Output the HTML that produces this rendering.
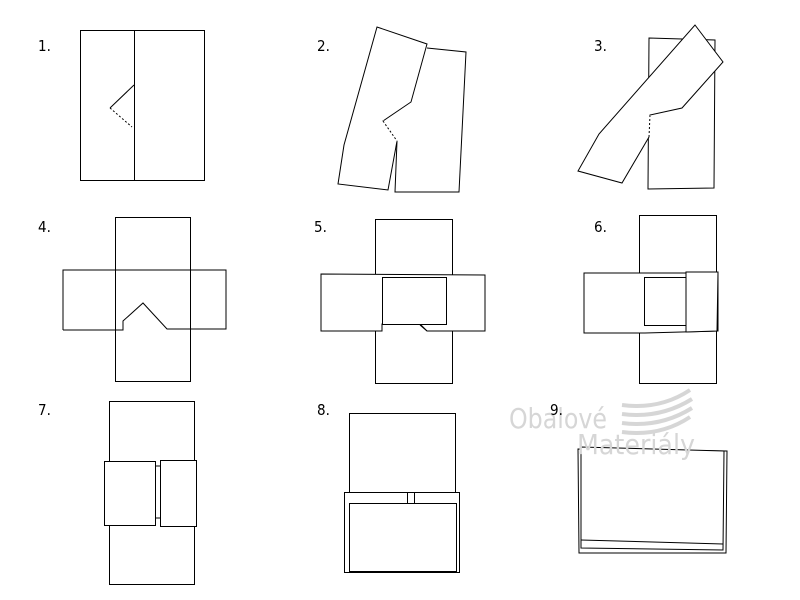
<!DOCTYPE html>
<html><head><meta charset="utf-8"><style>
html,body{margin:0;padding:0;background:#fff;width:800px;height:600px;overflow:hidden}
svg{display:block}
text{font-family:"DejaVu Sans Condensed","Liberation Sans",sans-serif}
</style></head><body>
<svg width="800" height="600" viewBox="0 0 800 600" xmlns="http://www.w3.org/2000/svg">
<g fill="none" stroke="#000" stroke-width="1">
<!-- 1 -->
<rect x="80.5" y="30.5" width="124" height="150"/>
<line x1="134.5" y1="30" x2="134.5" y2="180"/>
<polyline points="134,85 110,108"/>
<polyline points="110,108 132,127" stroke-dasharray="2,2"/>
<!-- 2 -->
<polyline points="427,48 466,52 459,192 395,192 397,141"/>
<polyline points="397,141 383,121 411,102 427,44 377,27 344,145 338,184 388,190 395,152 397,141" fill="#fff"/>
<line x1="383" y1="121" x2="397" y2="141" stroke="#fff" stroke-width="2"/>
<line x1="383" y1="121" x2="397" y2="141" stroke-dasharray="2,2"/>
<!-- 3 -->
<polygon points="649,38 715,40 714,188 648,189" fill="#fff"/>
<polygon points="695,25 723,62 682,108 650,115 649,137 622,183 578,171 599,134" fill="#fff"/>
<line x1="650" y1="115" x2="649" y2="137" stroke="#fff" stroke-width="2"/>
<line x1="650" y1="115" x2="649" y2="137" stroke-dasharray="2,2"/>
<!-- 4 -->
<rect x="115.5" y="217.5" width="75" height="164"/>
<polyline points="63,330 123,330 123,321 143,303 167,329 226,329 226,270 63,270 63,330"/>
<!-- 5 -->
<rect x="375.5" y="219.5" width="77" height="164"/>
<polygon points="321,274 485,275 485,331 427,331 420,324 382,324 382,331 321,331" fill="#fff"/>
<rect x="382.5" y="277.5" width="64" height="47" fill="#fff"/>
<line x1="420" y1="325" x2="427" y2="331"/>
<!-- 6 -->
<rect x="639.5" y="215.5" width="77" height="168"/>
<polygon points="584,273 718,273 718,331 645,333 584,333" fill="#fff"/>
<rect x="644.5" y="277.5" width="42" height="48" fill="#fff"/>
<polygon points="686,272 718,272 717,331 686,332" fill="#fff"/>
<!-- 7 -->
<rect x="109.5" y="401.5" width="85" height="183"/>
<rect x="104.5" y="461.5" width="51" height="64" fill="#fff"/>
<rect x="160.5" y="460.5" width="36" height="66" fill="#fff"/>
<line x1="155" y1="466" x2="161" y2="466"/><line x1="155" y1="518" x2="161" y2="518"/>
<!-- 8 -->
<rect x="349.5" y="413.5" width="106" height="79"/>
<rect x="344.5" y="492.5" width="115" height="80" fill="#fff"/>
<rect x="349.5" y="503.5" width="107" height="68"/>
<rect x="407.5" y="492.5" width="7" height="11"/>
<!-- 9 -->
<polygon points="578,449 727,451 726,553 579,553" fill="#fff"/>
<polygon points="581,447 724,451 723,550 581,548" fill="#fff"/>
<line x1="581" y1="540" x2="723" y2="544"/>
</g>
<g fill="#d6d6d6" font-size="28" style="font-family:'Liberation Sans',sans-serif">
<text x="509" y="428" textLength="98" lengthAdjust="spacingAndGlyphs">Obalové</text>
<text x="577" y="454" textLength="118" lengthAdjust="spacingAndGlyphs">Materiály</text>
</g>
<g fill="none" stroke="#d6d6d6" stroke-width="4">
<path d="M622 405 Q660 410 690 390"/>
<path d="M622 414 Q660 419 692 399"/>
<path d="M622 423 Q660 428 692 408"/>
<path d="M622 432 Q660 437 690 417"/>
</g>
<g font-size="15" fill="#000">
<text x="38" y="51">1.</text><text x="317" y="51">2.</text><text x="594" y="51">3.</text>
<text x="38" y="232">4.</text><text x="314" y="232">5.</text><text x="594" y="232">6.</text>
<text x="38" y="415">7.</text><text x="317" y="415">8.</text><text x="550" y="415">9.</text>
</g>
</svg>
</body></html>
